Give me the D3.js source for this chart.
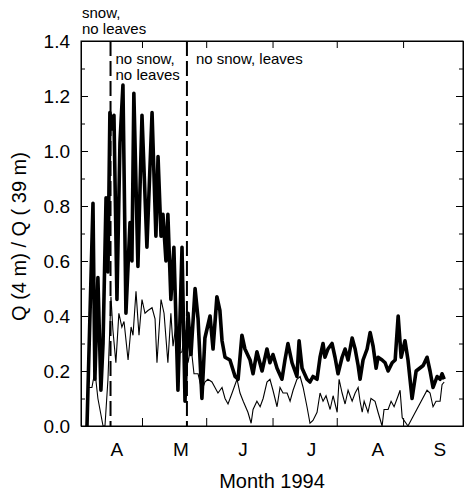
<!DOCTYPE html>
<html>
<head>
<meta charset="utf-8">
<script src="https://cdn.jsdelivr.net/npm/d3@7"></script>
<style>
  body { margin: 0; background: #fff; }
  svg { display: block; }
  text { font-family: "Liberation Sans", Arial, Helvetica, sans-serif; fill: #000; }
</style>
</head>
<body>
<div id="chart"></div>
<script>
// day of year 1994 for the x values
const thickDays = [79.3, 82.1, 83.0, 84.4, 85.8, 86.8, 88.2, 89.1, 90.0, 91.0, 91.9, 93.3, 94.7, 96.1, 97.5,
  99.4, 100.3, 101.2, 103.1, 105.0, 107.3, 109.7, 111.5, 112.5, 113.9, 114.8, 116.2, 117.1, 118.5, 119.9,
  121.8, 123.7, 125.1, 126.5, 127.9, 129.8, 131.2, 133.0, 134.4, 136.8, 138.2, 140.0, 141.4, 142.4, 143.8,
  146.1, 148.5, 149.9, 151.7, 153.1, 155.5, 156.9, 158.7, 161.1, 163.4, 164.8, 166.2, 168.1, 170.4, 171.8,
  173.2, 175.1, 177.4, 178.4, 179.8, 182.1, 183.5, 184.9, 186.8, 188.2, 189.6, 190.5, 191.9, 193.8, 195.2,
  196.6, 198.5, 199.9, 201.3, 203.2, 204.6, 206.0, 206.9, 208.3, 210.2, 211.6, 213.0, 214.4, 215.3, 217.2,
  218.6, 220.0, 221.9, 223.3, 224.7, 226.1, 227.9, 229.3, 231.2, 233.1, 236.4, 238.2, 239.6, 241.0, 242.9,
  244.3, 245.2, 246.2];
const thickValues = [0.00, 0.81, 0.17, 0.54, 0.13, 0.30, 0.83, 0.56, 1.14, 1.08, 1.13, 0.46, 1.03, 1.24, 0.41,
  0.74, 0.60, 1.21, 0.58, 1.13, 0.65, 1.14, 0.69, 0.98, 0.69, 0.77, 0.60, 0.77, 0.46, 0.65,
  0.13, 0.65, 0.09, 0.41, 0.26, 0.50, 0.39, 0.10, 0.32, 0.40, 0.28, 0.47, 0.42, 0.31, 0.25,
  0.24, 0.18, 0.17, 0.33, 0.28, 0.24, 0.19, 0.27, 0.20, 0.28, 0.23, 0.26, 0.21, 0.17, 0.24,
  0.30, 0.23, 0.18, 0.31, 0.21, 0.17, 0.16, 0.18, 0.17, 0.25, 0.30, 0.25, 0.28, 0.30, 0.25,
  0.19, 0.25, 0.28, 0.24, 0.32, 0.28, 0.22, 0.17, 0.24, 0.28, 0.34, 0.29, 0.21, 0.25, 0.24,
  0.23, 0.20, 0.23, 0.24, 0.40, 0.25, 0.31, 0.24, 0.10, 0.20, 0.22, 0.25, 0.20, 0.14, 0.18,
  0.17, 0.19, 0.17];

const thinDays = [79.3, 81.6, 83.0, 84.4, 86.8, 87.7, 89.1, 90.5, 91.4, 92.8, 94.2, 95.6, 96.6, 98.5, 99.9,
  100.8, 102.2, 103.6, 105.0, 106.4, 107.8, 109.7, 111.1, 112.0, 113.9, 115.3, 117.1, 118.5, 119.5, 120.9,
  121.8, 123.7, 125.1, 126.5, 127.9, 129.3, 131.2, 133.0, 134.4, 135.8, 137.7, 139.1, 140.5, 142.4, 143.8,
  145.2, 147.1, 149.4, 150.8, 152.3, 154.5, 156.0, 156.9, 158.7, 160.2, 161.6, 163.4, 164.8, 166.2, 168.1,
  169.5, 170.9, 172.8, 174.2, 175.6, 177.4, 178.9, 180.3, 182.1, 183.5, 184.9, 186.8, 188.2, 189.6, 191.0,
  192.9, 194.3, 196.2, 197.1, 198.5, 199.9, 201.3, 203.2, 204.6, 206.0, 206.9, 207.9, 208.8, 210.6, 212.0,
  213.9, 215.3, 217.2, 218.1, 220.0, 221.4, 222.8, 224.7, 225.6, 226.6, 229.3, 238.2, 239.6, 241.0, 242.4,
  244.3, 245.2, 246.2];
const thinValues = [0.14, 0.14, 0.20, 0.10, 0.00, 0.00, 0.17, 0.47, 0.35, 0.23, 0.41, 0.36, 0.38, 0.24, 0.36,
  0.33, 0.49, 0.33, 0.46, 0.41, 0.42, 0.43, 0.39, 0.23, 0.46, 0.41, 0.23, 0.41, 0.29, 0.37,
  0.26, 0.27, 0.35, 0.23, 0.29, 0.19, 0.19, 0.13, 0.16, 0.17, 0.16, 0.14, 0.12, 0.14, 0.10,
  0.08, 0.12, 0.17, 0.12, 0.09, 0.05, 0.01, 0.06, 0.09, 0.07, 0.10, 0.16, 0.17, 0.13, 0.07,
  0.14, 0.12, 0.12, 0.09, 0.13, 0.17, 0.18, 0.14, 0.07, 0.01, 0.02, 0.05, 0.12, 0.09, 0.11,
  0.06, 0.11, 0.05, 0.17, 0.12, 0.08, 0.13, 0.09, 0.12, 0.14, 0.09, 0.05, 0.09, 0.05, 0.10,
  0.09, 0.05, 0.00, 0.06, 0.06, 0.09, 0.07, 0.11, 0.13, 0.03, 0.00, 0.13, 0.12, 0.07, 0.09,
  0.09, 0.15, 0.16];

const tickDays = [105, 135, 166, 196, 227];          // mid-month tick marks
const monthDays = [93, 123, 152, 184, 215, 244];     // month letters
const monthNames = ['A', 'M', 'J', 'J', 'A', 'S'];
const snowEnd = 90.3;
const leafOut = 126.0;

const width = 464, height = 492;
const margin = { top: 41, right: 1, bottom: 66, left: 81 };

const svg = d3.select('#chart')
  .append('svg')
  .attr('width', width)
  .attr('height', height);

svg.append('rect').attr('width', width).attr('height', height).attr('fill', '#fff');

const x = d3.scaleLinear()
  .domain([76.5, 255])
  .range([margin.left, width - margin.right]);

const y = d3.scaleLinear()
  .domain([0, 1.4])
  .range([height - margin.bottom, margin.top]);

const x0 = margin.left, x1 = width - margin.right;
const y0 = height - margin.bottom, y1 = margin.top;

// minor y ticks
svg.append('g')
  .attr('transform', `translate(${x0},0)`)
  .call(d3.axisLeft(y).tickValues(d3.range(0.1, 1.4, 0.2)).tickSize(-4).tickFormat(''));
svg.append('g')
  .attr('transform', `translate(${x1},0)`)
  .call(d3.axisRight(y).tickValues(d3.range(0.1, 1.4, 0.2)).tickSize(-4).tickFormat(''));

// major y ticks
svg.append('g')
  .attr('class', 'y-axis')
  .attr('transform', `translate(${x0},0)`)
  .call(d3.axisLeft(y).tickValues(d3.range(0, 1.41, 0.2)).tickSize(-7).tickSizeOuter(0)
    .tickPadding(11).tickFormat(d3.format('.1f')));
svg.append('g')
  .attr('transform', `translate(${x1},0)`)
  .call(d3.axisRight(y).tickValues(d3.range(0, 1.41, 0.2)).tickSize(-7).tickSizeOuter(0).tickFormat(''));

// x ticks, bottom and top
svg.append('g')
  .attr('transform', `translate(0,${y0})`)
  .call(d3.axisBottom(x).tickValues(tickDays).tickSize(-8).tickSizeOuter(0).tickFormat(''));
svg.append('g')
  .attr('transform', `translate(0,${y1})`)
  .call(d3.axisTop(x).tickValues(tickDays).tickSize(-7).tickSizeOuter(0).tickFormat(''));

// month letters
svg.append('g')
  .attr('class', 'x-labels')
  .attr('transform', `translate(0,${y0})`)
  .call(d3.axisBottom(x).tickValues(monthDays).tickSize(0).tickPadding(17)
    .tickFormat((d, i) => monthNames[i]))
  .call(g => g.select('.domain').remove());

svg.selectAll('.y-axis text, .x-labels text')
  .attr('font-size', 19)
  .attr('font-family', '"Liberation Sans", Arial, sans-serif');
svg.selectAll('.domain').attr('stroke', '#000');

// dashed period lines
svg.selectAll('.period')
  .data([snowEnd, leafOut])
  .enter()
  .append('line')
  .attr('x1', d => x(d))
  .attr('x2', d => x(d))
  .attr('y1', y1)
  .attr('y2', y0)
  .attr('stroke', '#000')
  .attr('stroke-width', 2)
  .attr('stroke-dasharray', '15,5');

const line = d3.line()
  .x(d => x(d[0]))
  .y(d => y(d[1]));

svg.append('path')
  .datum(thinDays.map((d, i) => [d, thinValues[i]]))
  .attr('d', line)
  .attr('fill', 'none')
  .attr('stroke', '#000')
  .attr('stroke-width', 1.1);

svg.append('path')
  .datum(thickDays.map((d, i) => [d, thickValues[i]]))
  .attr('d', line)
  .attr('fill', 'none')
  .attr('stroke', '#000')
  .attr('stroke-width', 3.6)
  .attr('stroke-linejoin', 'round');

// frame
svg.append('rect')
  .attr('x', x0)
  .attr('y', y1)
  .attr('width', x1 - x0)
  .attr('height', y0 - y1)
  .attr('fill', 'none')
  .attr('stroke', '#000')
  .attr('stroke-width', 1);

// period annotations
const note = svg.append('g').attr('font-size', 15);
note.append('text').attr('x', x0 + 1).attr('y', 18).text('snow,');
note.append('text').attr('x', x0 + 1).attr('y', 34).text('no leaves');
note.append('text').attr('x', x(snowEnd) + 5).attr('y', 64).text('no snow,');
note.append('text').attr('x', x(snowEnd) + 5).attr('y', 80).text('no leaves');
note.append('text').attr('x', x(leafOut) + 9).attr('y', 64).text('no snow, leaves');

// axis titles
svg.append('text')
  .attr('x', (x0 + x1) / 2)
  .attr('y', 488)
  .attr('text-anchor', 'middle')
  .attr('font-size', 20)
  .text('Month 1994');

svg.append('text')
  .attr('transform', `translate(26,${(y0 + y1) / 2 + 3}) rotate(-90)`)
  .attr('text-anchor', 'middle')
  .attr('font-size', 20)
  .text('Q (4 m) / Q ( 39 m)');
</script>
</body>
</html>
